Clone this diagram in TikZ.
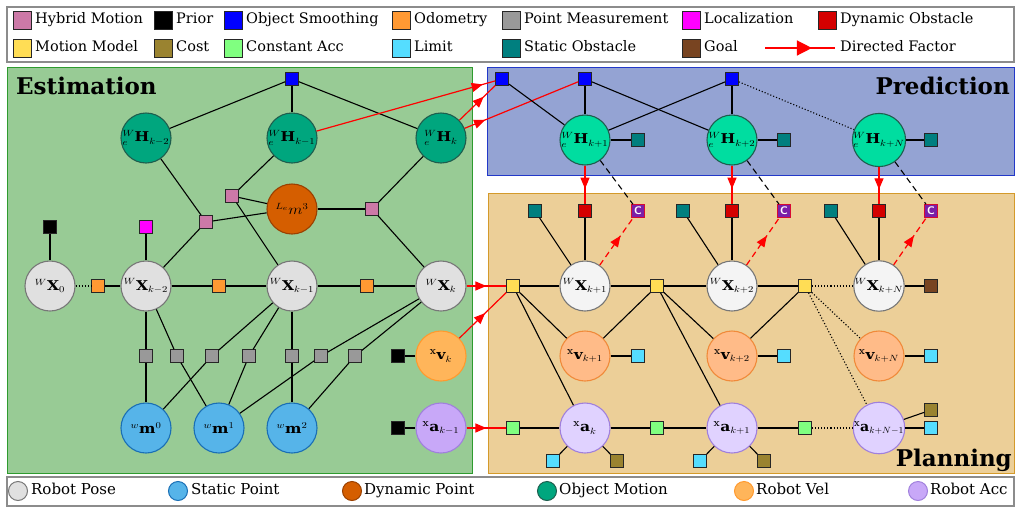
\documentclass[tikz,border=0pt]{standalone}
\usepackage{fontspec}
\setmainfont{DejaVu Serif}
\usepackage{xcolor}
\usepackage{amsmath, amssymb, bm}
\usetikzlibrary{arrows.meta, decorations.markings}

\definecolor{estgreen}{HTML}{98CB95}
\definecolor{estline}{HTML}{2E9B2E}
\definecolor{predblue}{HTML}{94A3D3}
\definecolor{predline}{HTML}{2238C8}
\definecolor{planbeige}{HTML}{ECCF98}
\definecolor{planline}{HTML}{D49A2A}
\definecolor{hybrid}{HTML}{CC79A7}
\definecolor{smooth}{HTML}{0000FF}
\definecolor{odom}{HTML}{FF9933}
\definecolor{pointmeas}{HTML}{999999}
\definecolor{localiz}{HTML}{FF00FF}
\definecolor{dynobs}{HTML}{D40000}
\definecolor{motmodel}{HTML}{FFDD55}
\definecolor{cost}{HTML}{9A8330}
\definecolor{constacc}{HTML}{80FF80}
\definecolor{limit}{HTML}{55DDFF}
\definecolor{statobs}{HTML}{007F7F}
\definecolor{goal}{HTML}{784421}
\definecolor{collide}{HTML}{7A1FA8}
\definecolor{pose}{HTML}{E0E0E0}
\definecolor{poseline}{HTML}{777777}
\definecolor{posefut}{HTML}{F4F4F4}
\definecolor{statpt}{HTML}{56B4E9}
\definecolor{statptline}{HTML}{1A6FB5}
\definecolor{dynpt}{HTML}{D55E00}
\definecolor{dynptline}{HTML}{9A4000}
\definecolor{objm}{HTML}{00A67E}
\definecolor{objmline}{HTML}{1E5E4E}
\definecolor{objmfut}{HTML}{00DDA0}
\definecolor{vel}{HTML}{FFB55A}
\definecolor{velline}{HTML}{FF9A2E}
\definecolor{velfut}{HTML}{FFBB88}
\definecolor{velfutline}{HTML}{F08A3A}
\definecolor{acc}{HTML}{C8A8F8}
\definecolor{accline}{HTML}{A080DC}
\definecolor{accfut}{HTML}{E0D2FF}

\newcommand{\vlab}[1]{\scalebox{1.15}[1]{$#1$}}

\begin{document}
\begin{tikzpicture}[x=1pt, y=-1pt,
    fac/.style={rectangle, draw=black!85, line width=0.6pt, minimum size=13pt, inner sep=0pt},
    legfac/.style={fac, minimum size=18pt},
    var/.style={circle, draw, line width=1.1pt, minimum size=50pt, inner sep=0pt, font=\fontsize{13.5}{15}\selectfont},
    legvar/.style={circle, draw, line width=1pt, minimum size=19pt, inner sep=0pt},
    legtxt/.style={anchor=west, inner sep=0pt, text height=10pt, text depth=3pt, font=\fontsize{14.5}{16}\selectfont},
    link/.style={line width=1.1pt},
    dirf/.style={red, line width=1.2pt, postaction={decorate},
        decoration={markings, mark=at position #1 with {\arrow{Triangle[length=11pt,width=9pt]}}}},
    dirf/.default=0.5,
    title/.style={font=\bfseries\fontsize{23}{26}\selectfont, inner sep=0pt}]
    \useasboundingbox (0,0) rectangle (1021,512);

    % legend of factors
    \draw[draw=black!45, line width=1.2pt, fill=white] (7,7) rectangle (1014,62);
    \node[legfac, fill=hybrid] (lhyb) at (22,20) {};
    \node[legtxt] (thyb) at (35,20) {Hybrid Motion};
    \node[legfac, fill=black] (lpri) at (163,20) {};
    \node[legtxt] (tpri) at (176,20) {Prior};
    \node[legfac, fill=smooth] (lsmo) at (233,20) {};
    \node[legtxt] (tsmo) at (246,20) {Object Smoothing};
    \node[legfac, fill=odom] (lodo) at (401,20) {};
    \node[legtxt] (todo) at (414,20) {Odometry};
    \node[legfac, fill=pointmeas] (lpm) at (511,20) {};
    \node[legtxt] (tpm) at (524,20) {Point Measurement};
    \node[legfac, fill=localiz] (lloc) at (691,20) {};
    \node[legtxt] (tloc) at (704,20) {Localization};
    \node[legfac, fill=dynobs] (ldo) at (827,20) {};
    \node[legtxt] (tdo) at (840,20) {Dynamic Obstacle};
    \node[legfac, fill=motmodel] (lmm) at (22,48) {};
    \node[legtxt] (tmm) at (35,48) {Motion Model};
    \node[legfac, fill=cost] (lco) at (163,48) {};
    \node[legtxt] (tco) at (176,48) {Cost};
    \node[legfac, fill=constacc] (lca) at (233,48) {};
    \node[legtxt] (tca) at (246,48) {Constant Acc};
    \node[legfac, fill=limit] (lli) at (401,48) {};
    \node[legtxt] (tli) at (414,48) {Limit};
    \node[legfac, fill=statobs] (lso) at (511,48) {};
    \node[legtxt] (tso) at (524,48) {Static Obstacle};
    \node[legfac, fill=goal] (lgl) at (691,48) {};
    \node[legtxt] (tgl) at (704,48) {Goal};
    \coordinate (dfa) at (765,48);
    \coordinate (dfb) at (835,48);
    \draw[red, line width=1.5pt, postaction={decorate},
        decoration={markings, mark=at position 0.67 with {\arrow{Triangle[length=15pt,width=15pt]}}}] (dfa) -- (dfb);
    \node[legtxt] (tdf) at (840,48) {Directed Factor};

    % regions
    \draw[estline, line width=1pt, fill=estgreen] (7,67) rectangle (472,473);
    \draw[predline, line width=1pt, fill=predblue] (487,67) rectangle (1014,175);
    \draw[planline, line width=1pt, fill=planbeige] (488,193) rectangle (1014,473);
    \node[title, anchor=base west] (test) at (16,94) {Estimation};
    \node[title, anchor=base east] (tpred) at (1010,94) {Prediction};
    \node[title, anchor=base east] (tplan) at (1012,466) {Planning};

    % estimation
    \node[fac, fill=smooth] (s0) at (292,79) {};
    \node[var, fill=objm, draw=objmline] (H2) at (146,138) {\vlab{{}^{W}_{e}\mathbf{H}_{k-2}}};
    \node[var, fill=objm, draw=objmline] (H1) at (292,138) {\vlab{{}^{W}_{e}\mathbf{H}_{k-1}}};
    \node[var, fill=objm, draw=objmline] (H0) at (441,138) {\vlab{{}^{W}_{e}\mathbf{H}_{k}}};
    \node[fac, fill=hybrid] (hy1) at (232,196) {};
    \node[fac, fill=hybrid] (hy2) at (206,222) {};
    \node[fac, fill=hybrid] (hy3) at (372,209) {};
    \node[var, fill=dynpt, draw=dynptline] (m3) at (292,209) {\vlab{{}^{L_e}m^3}};
    \node[fac, fill=black] (pr0) at (50,227) {};
    \node[fac, fill=localiz] (loc) at (146,227) {};
    \node[var, fill=pose, draw=poseline] (X0) at (50,286) {\vlab{{}^{W}\mathbf{X}_0}};
    \node[fac, fill=odom] (od0) at (98,286) {};
    \node[var, fill=pose, draw=poseline] (X2) at (146,286) {\vlab{{}^{W}\mathbf{X}_{k-2}}};
    \node[fac, fill=odom] (od1) at (219,286) {};
    \node[var, fill=pose, draw=poseline] (X1) at (292,286) {\vlab{{}^{W}\mathbf{X}_{k-1}}};
    \node[fac, fill=odom] (od2) at (367,286) {};
    \node[var, fill=pose, draw=poseline] (Xk) at (441,286) {\vlab{{}^{W}\mathbf{X}_{k}}};
    \node[fac, fill=pointmeas] (pm1) at (146,356) {};
    \node[fac, fill=pointmeas] (pm2) at (177,356) {};
    \node[fac, fill=pointmeas] (pm3) at (212,356) {};
    \node[fac, fill=pointmeas] (pm4) at (249,356) {};
    \node[fac, fill=pointmeas] (pm5) at (292,356) {};
    \node[fac, fill=pointmeas] (pm6) at (321,356) {};
    \node[fac, fill=pointmeas] (pm7) at (355,356) {};
    \node[var, fill=statpt, draw=statptline] (m0) at (146,428) {\vlab{{}^{w}\mathbf{m}^{0}}};
    \node[var, fill=statpt, draw=statptline] (m1) at (219,428) {\vlab{{}^{w}\mathbf{m}^{1}}};
    \node[var, fill=statpt, draw=statptline] (m2) at (292,428) {\vlab{{}^{w}\mathbf{m}^{2}}};
    \node[fac, fill=black] (prv) at (398,356) {};
    \node[var, fill=vel, draw=velline] (vk) at (441,356) {\vlab{{}^{\mathrm{x}}\mathbf{v}_{k}}};
    \node[fac, fill=black] (pra) at (398,428) {};
    \node[var, fill=acc, draw=accline] (ak) at (441,428) {\vlab{{}^{\mathrm{x}}\mathbf{a}_{k-1}}};

    \draw[link] (s0) -- (H2);
    \draw[link] (s0) -- (H1);
    \draw[link] (s0) -- (H0);
    \draw[link] (H2) -- (hy2) -- (X2);
    \draw[link] (hy2) -- (m3);
    \draw[link] (H1) -- (hy1) -- (X1);
    \draw[link] (hy1) -- (m3);
    \draw[link] (H0) -- (hy3) -- (Xk);
    \draw[link] (hy3) -- (m3);
    \draw[link] (pr0) -- (X0);
    \draw[link] (loc) -- (X2);
    \draw[link, dotted] (X0) -- (od0);
    \draw[link] (od0) -- (X2) -- (od1) -- (X1) -- (od2) -- (Xk);
    \draw[link] (X2) -- (pm1) -- (m0);
    \draw[link] (X2) -- (pm2) -- (m1);
    \draw[link] (X1) -- (pm3) -- (m0);
    \draw[link] (X1) -- (pm4) -- (m1);
    \draw[link] (X1) -- (pm5) -- (m2);
    \draw[link] (Xk) -- (pm6) -- (m1);
    \draw[link] (Xk) -- (pm7) -- (m2);
    \draw[link] (prv) -- (vk);
    \draw[link] (pra) -- (ak);

    % prediction
    \node[fac, fill=smooth] (sp1) at (502,79) {};
    \node[fac, fill=smooth] (sp2) at (585,79) {};
    \node[fac, fill=smooth] (sp3) at (732,79) {};
    \node[var, fill=objmfut, draw=objmline] (Hp1) at (585,140) {\vlab{{}^{W}_{e}\mathbf{H}_{k+1}}};
    \node[var, fill=objmfut, draw=objmline] (Hp2) at (732,140) {\vlab{{}^{W}_{e}\mathbf{H}_{k+2}}};
    \node[var, fill=objmfut, draw=objmline] (HpN) at (879,140) {\vlab{{}^{W}_{e}\mathbf{H}_{k+N}}};
    \node[fac, fill=statobs] (so1) at (638,140) {};
    \node[fac, fill=statobs] (so2) at (784,140) {};
    \node[fac, fill=statobs] (so3) at (931,140) {};

    \draw[dirf=0.93] (H1) -- (sp1);
    \draw[dirf=0.68] (H0) -- (sp1);
    \draw[dirf=0.18] (H0) -- (sp2);
    \draw[link] (sp1) -- (Hp1);
    \draw[link] (sp2) -- (Hp1);
    \draw[link] (sp2) -- (Hp2);
    \draw[link] (sp3) -- (Hp1);
    \draw[link] (sp3) -- (Hp2);
    \draw[link, dotted] (sp3) -- (HpN);
    \draw[link] (Hp1) -- (so1);
    \draw[link] (Hp2) -- (so2);
    \draw[link] (HpN) -- (so3);

    % planning
    \node[fac, fill=statobs] (st1) at (535,211) {};
    \node[fac, fill=statobs] (st2) at (683,211) {};
    \node[fac, fill=statobs] (st3) at (831,211) {};
    \node[fac, fill=dynobs] (do1) at (585,211) {};
    \node[fac, fill=dynobs] (do2) at (732,211) {};
    \node[fac, fill=dynobs] (do3) at (879,211) {};
    \node[fac, fill=collide, draw=red!70!collide, text=white, font=\sffamily\bfseries\fontsize{11}{12}\selectfont] (c1) at (638,211) {C};
    \node[fac, fill=collide, draw=red!70!collide, text=white, font=\sffamily\bfseries\fontsize{11}{12}\selectfont] (c2) at (784,211) {C};
    \node[fac, fill=collide, draw=red!70!collide, text=white, font=\sffamily\bfseries\fontsize{11}{12}\selectfont] (c3) at (931,211) {C};
    \node[fac, fill=motmodel] (mm1) at (513,286) {};
    \node[fac, fill=motmodel] (mm2) at (657,286) {};
    \node[fac, fill=motmodel] (mm3) at (805,286) {};
    \node[var, fill=posefut, draw=poseline] (Xp1) at (585,286) {\vlab{{}^{W}\mathbf{X}_{k+1}}};
    \node[var, fill=posefut, draw=poseline] (Xp2) at (732,286) {\vlab{{}^{W}\mathbf{X}_{k+2}}};
    \node[var, fill=posefut, draw=poseline] (XpN) at (879,286) {\vlab{{}^{W}\mathbf{X}_{k+N}}};
    \node[fac, fill=goal] (gl) at (931,286) {};
    \node[var, fill=velfut, draw=velfutline] (vp1) at (585,356) {\vlab{{}^{\mathrm{x}}\mathbf{v}_{k+1}}};
    \node[var, fill=velfut, draw=velfutline] (vp2) at (732,356) {\vlab{{}^{\mathrm{x}}\mathbf{v}_{k+2}}};
    \node[var, fill=velfut, draw=velfutline] (vpN) at (879,356) {\vlab{{}^{\mathrm{x}}\mathbf{v}_{k+N}}};
    \node[fac, fill=limit] (li1) at (638,356) {};
    \node[fac, fill=limit] (li2) at (784,356) {};
    \node[fac, fill=limit] (li3) at (931,356) {};
    \node[fac, fill=constacc] (ca1) at (513,428) {};
    \node[fac, fill=constacc] (ca2) at (657,428) {};
    \node[fac, fill=constacc] (ca3) at (805,428) {};
    \node[var, fill=accfut, draw=accline] (ap0) at (585,428) {\vlab{{}^{\mathrm{x}}\mathbf{a}_{k}}};
    \node[var, fill=accfut, draw=accline] (ap1) at (732,428) {\vlab{{}^{\mathrm{x}}\mathbf{a}_{k+1}}};
    \node[var, fill=accfut, draw=accline] (apN) at (879,428) {\scalebox{1.05}[1]{${}^{\mathrm{x}}\mathbf{a}_{k+N-1}$}};
    \node[fac, fill=limit] (li4) at (553,461) {};
    \node[fac, fill=cost] (co1) at (617,461) {};
    \node[fac, fill=limit] (li5) at (700,461) {};
    \node[fac, fill=cost] (co2) at (764,461) {};
    \node[fac, fill=cost] (co3) at (931,410) {};
    \node[fac, fill=limit] (li6) at (931,428) {};

    \draw[dirf=0.6] (Hp1) -- (do1);
    \draw[dirf=0.6] (Hp2) -- (do2);
    \draw[dirf=0.6] (HpN) -- (do3);
    \draw[link, dash pattern=on 6pt off 4pt] (Hp1) -- (c1);
    \draw[link, dash pattern=on 6pt off 4pt] (Hp2) -- (c2);
    \draw[link, dash pattern=on 6pt off 4pt] (HpN) -- (c3);
    \draw[link] (st1) -- (Xp1);
    \draw[link] (st2) -- (Xp2);
    \draw[link] (st3) -- (XpN);
    \draw[link] (do1) -- (Xp1);
    \draw[link] (do2) -- (Xp2);
    \draw[link] (do3) -- (XpN);
    \draw[dirf=0.62, dash pattern=on 6pt off 4pt] (Xp1) -- (c1);
    \draw[dirf=0.62, dash pattern=on 6pt off 4pt] (Xp2) -- (c2);
    \draw[dirf=0.62, dash pattern=on 6pt off 4pt] (XpN) -- (c3);
    \draw[dirf=0.5] (Xk) -- (mm1);
    \draw[dirf=0.55] (vk) -- (mm1);
    \draw[dirf=0.5] (ak) -- (ca1);
    \draw[link] (mm1) -- (Xp1) -- (mm2) -- (Xp2) -- (mm3);
    \draw[link, dotted] (mm3) -- (XpN);
    \draw[link] (XpN) -- (gl);
    \draw[link] (mm1) -- (vp1);
    \draw[link] (mm1) -- (ap0);
    \draw[link] (mm2) -- (vp1);
    \draw[link] (mm2) -- (vp2);
    \draw[link] (mm2) -- (ap1);
    \draw[link] (mm3) -- (vp2);
    \draw[link, dotted] (mm3) -- (vpN);
    \draw[link, dotted] (mm3) -- (apN);
    \draw[link] (vp1) -- (li1);
    \draw[link] (vp2) -- (li2);
    \draw[link] (vpN) -- (li3);
    \draw[link] (ca1) -- (ap0) -- (ca2) -- (ap1) -- (ca3);
    \draw[link, dotted] (ca3) -- (apN);
    \draw[link] (ap0) -- (li4);
    \draw[link] (ap0) -- (co1);
    \draw[link] (ap1) -- (li5);
    \draw[link] (ap1) -- (co2);
    \draw[link] (apN) -- (co3);
    \draw[link] (apN) -- (li6);

    % legend of variables
    \draw[draw=black!45, line width=1.2pt, fill=white] (7,477) rectangle (1014,506);
    \node[legvar, fill=pose, draw=poseline] (lrp) at (18,491) {};
    \node[legtxt, font=\fontsize{15}{16}\selectfont] (trp) at (31,491) {Robot Pose};
    \node[legvar, fill=statpt, draw=statptline] (lsp) at (178,491) {};
    \node[legtxt, font=\fontsize{15}{16}\selectfont] (tsp) at (191,491) {Static Point};
    \node[legvar, fill=dynpt, draw=dynptline] (ldp) at (352,491) {};
    \node[legtxt, font=\fontsize{15}{16}\selectfont] (tdp) at (364,491) {Dynamic Point};
    \node[legvar, fill=objm, draw=objmline] (lom) at (547,491) {};
    \node[legtxt, font=\fontsize{15}{16}\selectfont] (tom) at (559,491) {Object Motion};
    \node[legvar, fill=vel, draw=velline] (lrv) at (744,491) {};
    \node[legtxt, font=\fontsize{15}{16}\selectfont] (trv) at (756,491) {Robot Vel};
    \node[legvar, fill=acc, draw=accline] (lra) at (918,491) {};
    \node[legtxt, font=\fontsize{15}{16}\selectfont] (tra) at (930,491) {Robot Acc};
\end{tikzpicture}
\end{document}
